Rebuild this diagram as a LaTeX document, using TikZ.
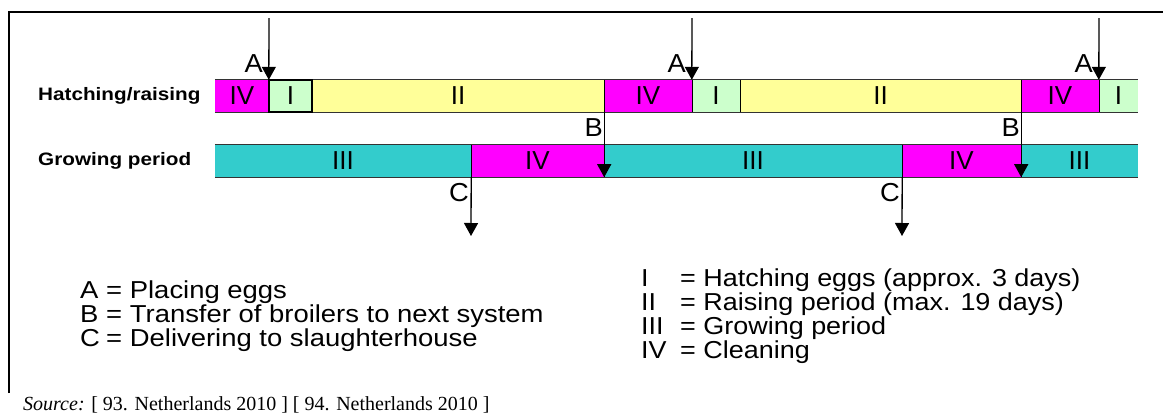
\documentclass[tikz,border=0pt]{standalone}
\usepackage{fontspec}
\setmainfont{Liberation Sans}
\newfontfamily\srcfont{Liberation Serif}
\usetikzlibrary{arrows.meta}
\definecolor{magc}{HTML}{FF00FF}
\definecolor{grn}{HTML}{CCFFCC}
\definecolor{yel}{HTML}{FFFF99}
\definecolor{teal2}{HTML}{33CCCC}
\definecolor{edge}{HTML}{333333}
\tikzset{
  seg/.style={draw=none, inner sep=0pt, minimum height=32pt, font=\fontsize{26}{26}\selectfont},
  barline/.style={draw=edge, line width=1.3pt},
  divline/.style={draw=black, line width=1.3pt},
  evt/.style={draw=black, line width=1.3pt, -{Triangle[width=14pt,length=13pt]}},
  evlab/.style={inner sep=0pt, font=\fontsize{26}{26}\selectfont, xscale=1.05},
  rowlab/.style={anchor=west, inner sep=0pt, font=\bfseries\fontsize{18}{18}\selectfont, xscale=1.15},
  legl/.style={anchor=base west, inner sep=0pt, font=\fontsize{24.5}{24.5}\selectfont, xscale=1.12},
  legr/.style={anchor=base west, inner sep=0pt, font=\fontsize{24.5}{24.5}\selectfont, xscale=1.10},
}
\begin{document}
\begin{tikzpicture}[x=1pt, y=-1pt]
\useasboundingbox (0,0) rectangle (1163,418);
% frame
\draw[line width=2pt] (9,393) -- (9,12) -- (1163,12);
% row labels
\node[rowlab] (lh) at (38,96) {Hatching/raising};
\node[rowlab] (lg) at (38,161) {Growing period};
% hatching/raising row
\node[seg, fill=magc, minimum width=54pt]  (h1) at (242,96)    {IV};
\node[seg, fill=grn,  minimum width=43pt]  (h2) at (290.5,96)  {I};
\node[seg, fill=yel,  minimum width=292pt] (h3) at (458,96)    {II};
\node[seg, fill=magc, minimum width=88pt]  (h4) at (648,96)    {IV};
\node[seg, fill=grn,  minimum width=48pt]  (h5) at (716,96)    {I};
\node[seg, fill=yel,  minimum width=281pt] (h6) at (880.5,96)  {II};
\node[seg, fill=magc, minimum width=78pt]  (h7) at (1060,96)   {IV};
\node[seg, fill=grn,  minimum width=39pt]  (h8) at (1118.5,96) {I};
% growing row
\node[seg, fill=teal2, minimum width=256pt] (g1) at (343,161)    {III};
\node[seg, fill=magc,  minimum width=133pt] (g2) at (537.5,161)  {IV};
\node[seg, fill=teal2, minimum width=298pt] (g3) at (753,161)    {III};
\node[seg, fill=magc,  minimum width=119pt] (g4) at (961.5,161)  {IV};
\node[seg, fill=teal2, minimum width=117pt] (g5) at (1079.5,161) {III};
% bar outlines
\draw[barline] (h1.north west) -- (h8.north east);
\draw[barline] (h1.south west) -- (h8.south east);
\draw[barline] (g1.north west) -- (g5.north east);
\draw[barline] (g1.south west) -- (g5.south east);
\foreach \n in {h1,h2,h3,h4,h5,h6,h7} {\draw[divline] (\n.north east) -- (\n.south east);}
\foreach \n in {g1,g2,g3,g4} {\draw[divline] (\n.north east) -- (\n.south east);}
\draw[line width=2pt] (h2.north west) rectangle (h2.south east);
% events A
\coordinate (a1) at (269,18);
\coordinate (a2) at (692,18);
\coordinate (a3) at (1099,18);
\draw[evt] (a1) -- (h2.north west);
\draw[evt] (a2) -- (h5.north west);
\draw[evt] (a3) -- (h8.north west);
\node[evlab, anchor=east] (la1) at (263,64) {A};
\node[evlab, anchor=east] (la2) at (686,64) {A};
\node[evlab, anchor=east] (la3) at (1093,64) {A};
% events B
\draw[evt] (h3.south east) -- (g2.south east);
\draw[evt] (h6.south east) -- (g4.south east);
\node[evlab, anchor=east] (lb1) at (603,128) {B};
\node[evlab, anchor=east] (lb2) at (1020,128) {B};
% events C
\coordinate (c1) at (471,236);
\coordinate (c2) at (902,236);
\draw[evt] (g1.south east) -- (c1);
\draw[evt] (g3.south east) -- (c2);
\node[evlab, anchor=east] (lc1) at (469,193) {C};
\node[evlab, anchor=east] (lc2) at (900,193) {C};
% legend left
\node[legl] (kA) at (80,298.5) {A};
\node[legl] (tA) at (106,298.5) {= Placing eggs};
\node[legl] (kB) at (80,322.5) {B};
\node[legl] (tB) at (106,322.5) {= Transfer of broilers to next system};
\node[legl] (kC) at (80,346.5) {C};
\node[legl] (tC) at (106,346.5) {= Delivering to slaughterhouse};
% legend right
\node[legr] (k1) at (641,286.5) {I};
\node[legr] (t1) at (680,286.5) {= Hatching eggs (approx. 3 days)};
\node[legr] (k2) at (641,310.5) {II};
\node[legr] (t2) at (680,310.5) {= Raising period (max. 19 days)};
\node[legr] (k3) at (641,334.5) {III};
\node[legr] (t3) at (680,334.5) {= Growing period};
\node[legr] (k4) at (641,358.5) {IV};
\node[legr] (t4) at (680,358.5) {= Cleaning};
% source
\node[anchor=west, inner sep=0pt, font=\srcfont\fontsize{20}{20}\selectfont] (src) at (23,405) {\textit{Source:} [ 93. Netherlands 2010 ] [ 94. Netherlands 2010 ]};
\end{tikzpicture}
\end{document}
